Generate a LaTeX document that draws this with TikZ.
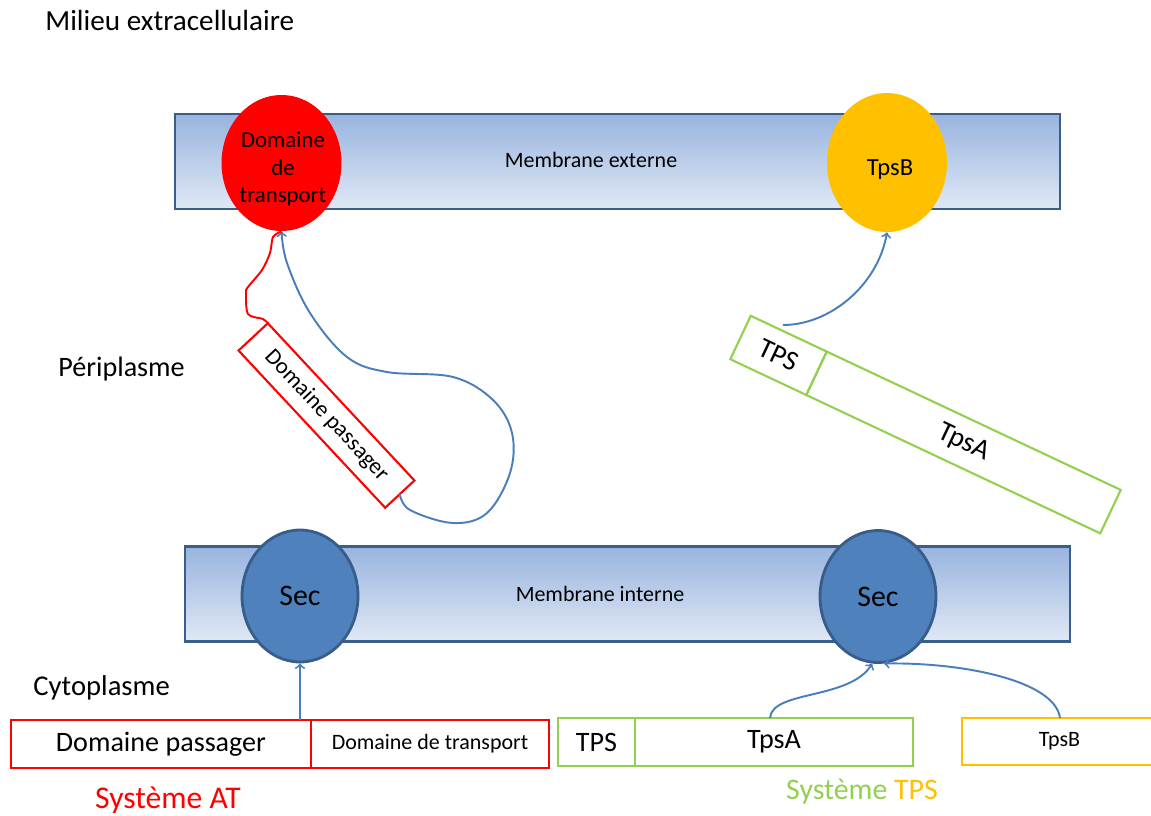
\documentclass[tikz,border=0pt]{standalone}
\usepackage{fontspec}
\setmainfont{Carlito}
\usetikzlibrary{positioning,shapes.geometric}
\definecolor{memtop}{HTML}{98B4DF}
\definecolor{membot}{HTML}{E0E8F5}
\definecolor{memline}{HTML}{3A5E8C}
\definecolor{secblue}{HTML}{4F81BD}
\definecolor{secline}{HTML}{385D8A}
\definecolor{flowblue}{HTML}{4A7EBB}
\definecolor{atred}{HTML}{FF0000}
\definecolor{tpsgreen}{HTML}{92D050}
\definecolor{tpsorange}{HTML}{FFC000}
\tikzset{
  membrane/.style={draw=memline, line width=1.6pt, top color=memtop, bottom color=membot,
    minimum width=17.7cm, minimum height=1.9cm},
  secpore/.style={ellipse, draw=secline, line width=1.6pt, fill=secblue, inner sep=0pt,
    minimum width=2.32cm, minimum height=2.64cm, font=\fontsize{17}{20}\selectfont},
  blob/.style={ellipse, inner sep=0pt, minimum width=2.4cm, minimum height=2.72cm},
  segment/.style={draw, line width=1.2pt, outer sep=0pt, inner sep=0pt, minimum height=0.96cm,
    font=\fontsize{16}{19}\selectfont},
  region/.style={anchor=west, inner sep=0pt, font=\fontsize{16}{19}\selectfont},
  flow/.style={draw=flowblue, line width=1.1pt, ->},
}
\begin{document}
\begin{tikzpicture}[x=0.02cm, y=-0.02cm]
  \useasboundingbox (0,0) rectangle (1151,815);
  \node[region, font=\fontsize{16.6}{19}\selectfont] (milieu) at (45,20) {Milieu extracellulaire};
  \node[region] (peri) at (58,369) {Périplasme};
  \node[region, font=\fontsize{16.3}{19}\selectfont] (cyto) at (33,688) {Cytoplasme};

  \node[membrane] (outer) at (617.5,161.5) {};
  \node[membrane] (inner) at (627.5,594) {};
  \node[font=\fontsize{12.5}{15}\selectfont] (outtxt) at (591,160) {Membrane externe};
  \node[font=\fontsize{12.5}{15}\selectfont] (intxt) at (600,594) {Membrane interne};

  \node[blob, fill=atred] (dtrans) at (281.5,163) {};
  \node[align=center, font=\fontsize{13}{15.5}\selectfont] (dtranstxt) at (283,169) {Domaine\\de\\transport};
  \node[blob, fill=tpsorange, minimum height=2.78cm] (tpsb) at (887,162.5) {};
  \node[font=\fontsize{14}{16}\selectfont] (tpsbtxt) at (890,170) {TpsB};
  \node[secpore] (secL) at (300,596) {Sec};
  \node[secpore] (secR) at (878,596.5) {Sec};

  \node[segment, draw=atred, fill=white, rotate=-47, minimum width=4.3cm, minimum height=0.8cm,
    font=\fontsize{13}{15}\selectfont] (ppass) at (326.5,415.5) {Domaine passager};
  \node[segment, draw=tpsgreen, rotate=-25.2, minimum width=1.68cm] (tpsr) at (778.5,355.4) {TPS};
  \node[segment, draw=tpsgreen, rotate=-25.2, anchor=west, minimum width=6.5cm] (tpsar) at (tpsr.east) {TpsA};
  \coordinate (tpsfree) at (783,325);

  \node[segment, draw=atred, minimum width=6cm] (passager) at (161,744) {Domaine passager};
  \node[segment, draw=atred, minimum width=4.76cm, right=0pt of passager,
    font=\fontsize{12.5}{15}\selectfont] (transport) {Domaine de transport};
  \node[segment, draw=tpsgreen, minimum width=1.54cm] (tps) at (596.5,742) {TPS};
  \node[segment, draw=tpsgreen, minimum width=5.56cm, right=0pt of tps] (tpsa) {TpsA};
  \node[segment, draw=tpsorange, minimum width=3.9cm, minimum height=0.94cm,
    font=\fontsize{12.5}{15}\selectfont] (tpsbbox) at (1059.5,741.5) {TpsB};

  \node[font=\fontsize{18}{21}\selectfont, text=atred] (sysat) at (168,800) {Système AT};
  \node[font=\fontsize{17}{20}\selectfont] (systps) at (862,792) {\textcolor{tpsgreen}{Système} \textcolor{tpsorange}{TPS}};

  \begin{scope}[flow]
    \draw (secL.south |- passager.north) -- (secL.south);
    \draw (770,718) .. controls (772,690) and (850,700) .. (secR.-95);
    \draw (1060,718) .. controls (1055,680) and (960,662) .. (secR.-85);
    \draw (tpsfree) .. controls (830,325) and (878,285) .. (tpsb.south);
    \draw plot[smooth, tension=0.6] coordinates {(ppass.east) (410,510) (453,523) (487,513)
      (510,473) (512,433) (493,400) (453,377) (387,372) (347,357) (310,313) (287,263) (dtrans.south)};
  \end{scope}
  \draw[atred, line width=1.1pt] plot[smooth, tension=0.5] coordinates {(ppass.north west)
    (263,319) (248,314) (246,293) (248,287) (262,270) (270,253) (273,237) (dtrans.south)};
\end{tikzpicture}
\end{document}
